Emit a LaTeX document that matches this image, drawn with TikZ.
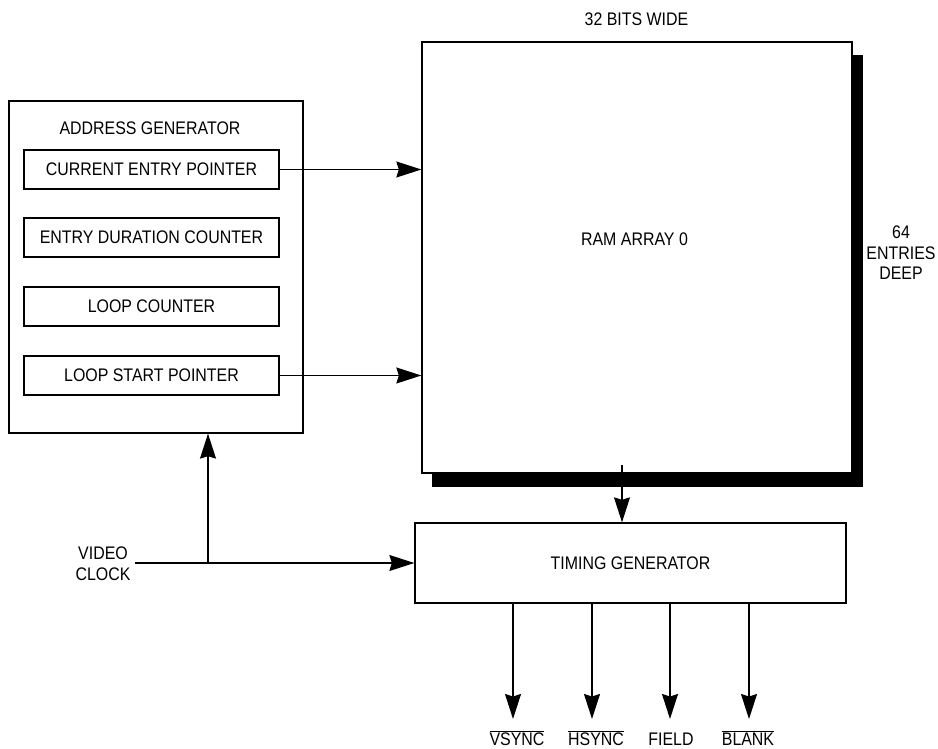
\documentclass[tikz,border=0pt]{standalone}
\usepackage{fontspec}
\setmainfont{Liberation Sans}[FakeStretch=0.875]
\usetikzlibrary{arrows.meta}
\begin{document}
\begin{tikzpicture}[x=1pt,y=-1pt,
  every node/.style={font=\fontsize{18.2}{20.5}\selectfont, inner sep=0pt},
  box/.style={draw, line width=1.3pt, fill=white},
  arr/.style={line width=1.2pt, -{Stealth[length=25pt,width=16pt,inset=2.5pt]}},
  wire/.style={line width=1.2pt}]
\useasboundingbox (0,0) rectangle (938,749);
\fill[white] (0,0) rectangle (938,749);

% address generator
\node[box, minimum width=294pt, minimum height=332pt] (addr) at (156,267) {};
\node (addrt) at (150,128) {ADDRESS GENERATOR};
\node[box, minimum width=255pt, minimum height=39pt] (cep) at (151.5,169.5) {CURRENT ENTRY POINTER};
\node[box, minimum width=255pt, minimum height=39pt] (edc) at (151.5,237.5) {ENTRY DURATION COUNTER};
\node[box, minimum width=255pt, minimum height=39pt] (lc) at (151.5,306.5) {LOOP COUNTER};
\node[box, minimum width=255pt, minimum height=39pt] (lsp) at (151.5,375.5) {LOOP START POINTER};

% RAM array with shadow
\fill[black] (852,55) rectangle (863,487);
\fill[black] (432,473) rectangle (863,487);
\node[box, minimum width=430pt, minimum height=431pt] (ram) at (637,257.5) {};
\node (ramt) at (634.5,239.5) {RAM ARRAY 0};
\node (wide) at (636.5,19.5) {32 BITS WIDE};
\node[align=center] (deep) at (901,253) {64\\ENTRIES\\DEEP};

% timing generator
\node[box, minimum width=431pt, minimum height=80pt] (tg) at (630.5,563) {TIMING GENERATOR};

% video clock
\node[align=center] (vclk) at (103,563.5) {VIDEO\\CLOCK};
\coordinate (vc) at (135,563);
\coordinate (br) at (208,563);
\draw[arr] (vc) -- (tg.west);
\draw[arr] (br) -- (br |- addr.south);

% pointers to RAM
\draw[arr] (cep.east) -- (cep.east -| ram.west);
\draw[arr] (lsp.east) -- (lsp.east -| ram.west);

% RAM to timing generator
\coordinate (ramout) at (622,465);
\draw[arr] (ramout) -- (ramout |- tg.north);

% outputs
\node[anchor=base] (vs) at (517,745) {$\overline{\hbox{VSYNC}}$};
\node[anchor=base] (hs) at (596,745) {$\overline{\hbox{HSYNC}}$};
\node[anchor=base] (fd) at (671,745) {FIELD};
\node[anchor=base] (bk) at (748,745) {$\overline{\hbox{BLANK}}$};
\coordinate (o1) at (513,603);
\coordinate (o2) at (592,603);
\coordinate (o3) at (670,603);
\coordinate (o4) at (749,603);
\draw[arr] (o1) -- (513,719);
\draw[arr] (o2) -- (592,719);
\draw[arr] (o3) -- (670,719);
\draw[arr] (o4) -- (749,719);
\end{tikzpicture}
\end{document}
